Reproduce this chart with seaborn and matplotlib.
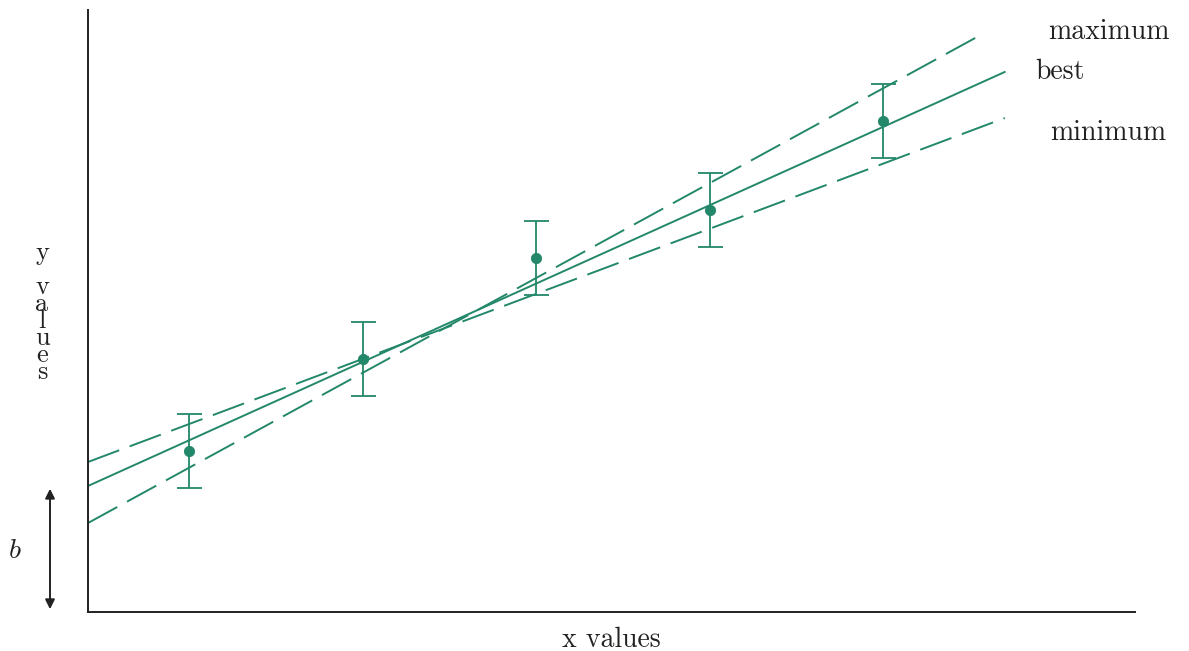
import matplotlib
matplotlib.use('Agg')
import matplotlib.pyplot as plt
import numpy as np
import pandas as pd
import seaborn as sns

# measured points with their error
x_pts = [1, 2, 3, 4, 5]
y_pts = [2.68, 4.22, 5.90, 6.70, 8.18]
y_err = [0.62, 0.62, 0.62, 0.62, 0.62]

# fitted lines: name, slope, intercept, end x
line_names = ['maximum', 'best', 'minimum']
slopes = [1.581, 1.306, 1.085]
intercepts = [0.822, 1.554, 2.046]
x_ends = [5.53, 5.70, 5.70]

x_lo, x_hi = 0.418, 6.45
y_lo, y_hi = 0, 10.03

sns.set_style('white')
plt.rcParams['font.family'] = ['cmr10', 'DejaVu Serif']
plt.rcParams['mathtext.fontset'] = 'cm'
plt.rcParams['lines.scale_dashes'] = False

green = '#23876a'
ink = '#222222'

fig = plt.figure(figsize=(11.89, 6.51), dpi=100)
ax = fig.add_axes([88/1189, 39/651, (1135-88)/1189, (612-10)/651])

for name, m, c, xe in zip(line_names, slopes, intercepts, x_ends):
    xs = np.array([x_lo, xe])
    d = pd.DataFrame({'x': xs, 'y': m*xs + c})
    ls = '-' if name == 'best' else '--'
    sns.lineplot(data=d, x='x', y='y', ax=ax, color=green, lw=1.4, linestyle=ls)
    if name != 'best':
        ax.lines[-1].set_dashes((24, 8))

ax.errorbar(x_pts, y_pts, yerr=y_err, fmt='none', ecolor=green, elinewidth=1.3,
            capsize=9, capthick=1.3)
sns.scatterplot(x=x_pts, y=y_pts, ax=ax, color=green, s=55, edgecolor=green, zorder=5)

# line labels at the right
lab_pos = {'maximum': (1048, 32), 'best': (1035, 72), 'minimum': (1050, 133)}
for name in line_names:
    px, py = lab_pos[name]
    fig.text(px/1189, 1 - py/651, name, fontsize=20, va='center', ha='left', color=ink)

ax.set_xlim(x_lo, x_hi)
ax.set_ylim(y_lo, y_hi)
ax.set_xticks([])
ax.set_yticks([])
ax.set_xlabel('')
ax.set_ylabel('')
for s in ['top', 'right']:
    ax.spines[s].set_visible(False)
for s in ['left', 'bottom']:
    ax.spines[s].set_color(ink)
    ax.spines[s].set_linewidth(1.4)

# axis labels
fig.text(611/1189, 1 - 640/651, 'x values', fontsize=20, ha='center', va='center', color=ink)
fig.text(42/1189, 1 - 313/651, '\n'.join('y values'), fontsize=19, ha='center', va='center',
         linespacing=0.64, color=ink)

# intercept arrow
b_top = slopes[1]*x_lo + intercepts[1]
x_arrow = x_lo + (50 - 88) / ((1135 - 88) / (x_hi - x_lo))
ax.annotate('', xy=(x_arrow, b_top), xytext=(x_arrow, 0), xycoords='data',
            arrowprops=dict(arrowstyle='<|-|>', color=ink, lw=1.4, mutation_scale=14),
            annotation_clip=False)
fig.text(15/1189, 1 - 551/651, '$b$', fontsize=20, ha='center', va='center', color=ink)

fig.savefig('out.png', dpi=100)
